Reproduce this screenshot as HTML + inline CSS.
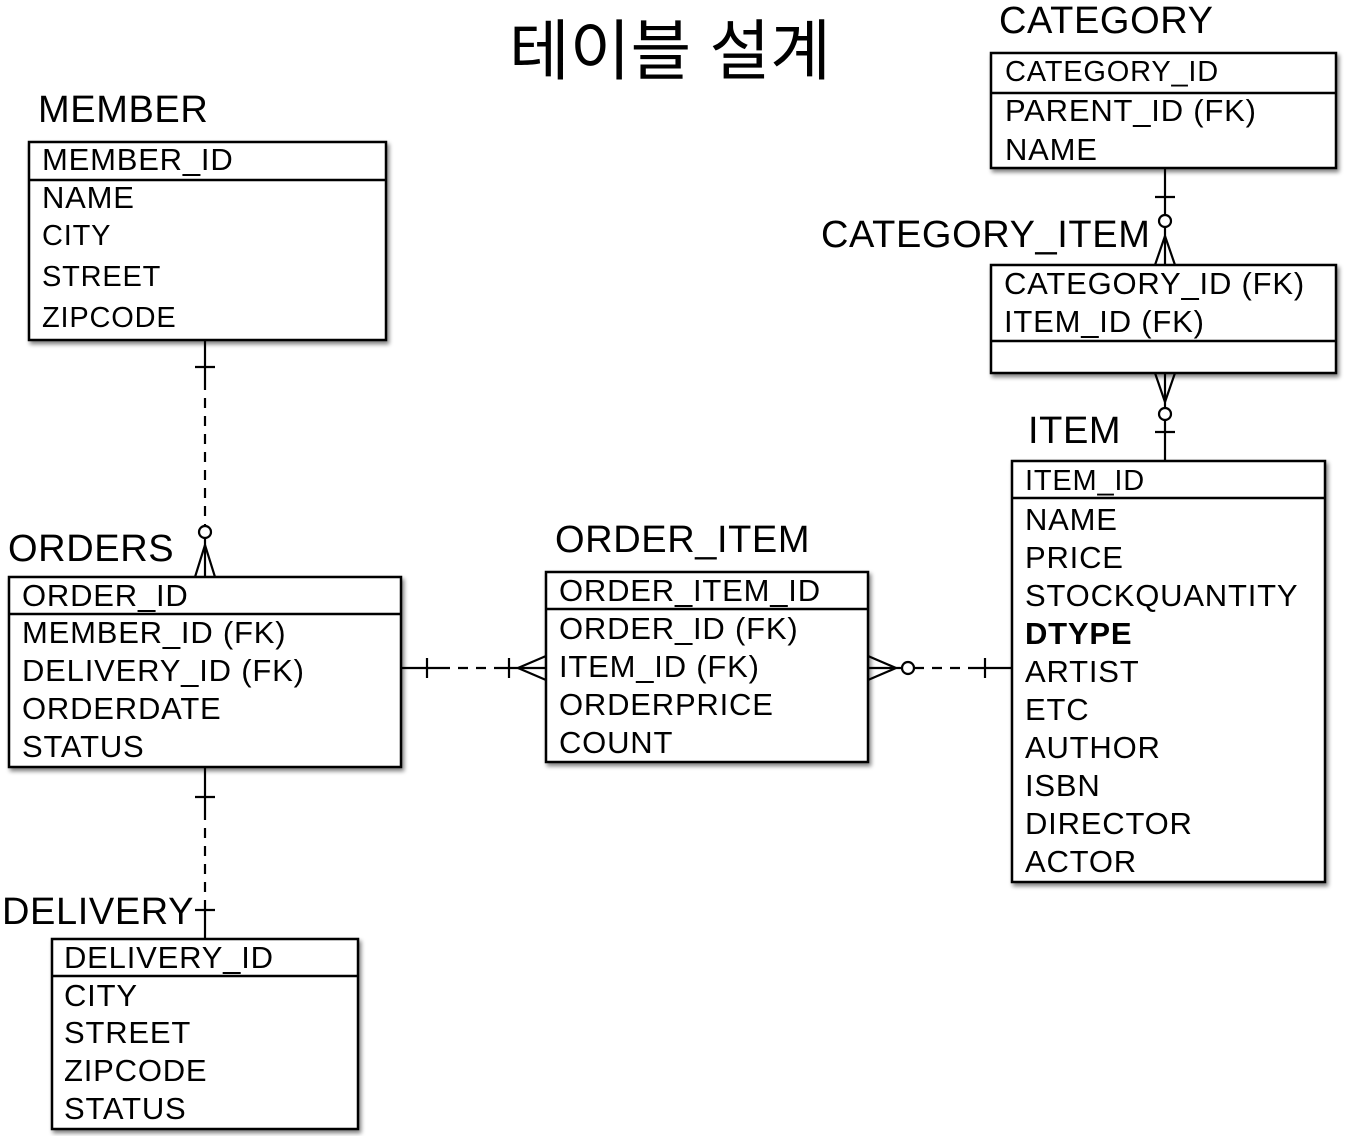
<!DOCTYPE html>
<html><head><meta charset="utf-8"><style>
html,body{margin:0;padding:0;background:#fff;}
svg{display:block;}
text{font-family:"Liberation Sans","Noto Sans CJK KR",sans-serif;fill:#000;}
.r text{font-size:31px;letter-spacing:0.8px;}
.r text.t{font-size:29px;letter-spacing:0.8px;}
.l{font-size:38px;letter-spacing:0.6px;}
</style></head><body>
<svg width="1346" height="1136" viewBox="0 0 1346 1136" xmlns="http://www.w3.org/2000/svg">
<defs>
<filter id="sh" x="-5%" y="-5%" width="115%" height="115%">
<feGaussianBlur in="SourceAlpha" stdDeviation="2"/>
<feOffset dx="2" dy="3"/>
<feComponentTransfer><feFuncA type="linear" slope="0.5"/></feComponentTransfer>
<feMerge><feMergeNode/><feMergeNode in="SourceGraphic"/></feMerge>
</filter>
</defs>
<text x="670" y="74" font-size="66" text-anchor="middle">테이블 설계</text>

<g fill="#fff" stroke="#000" stroke-width="2.5" filter="url(#sh)">
<rect x="991" y="53" width="345" height="115"/>
<rect x="991" y="265" width="345" height="108"/>
<rect x="1012" y="461" width="313" height="421"/>
<rect x="29" y="142" width="357" height="198"/>
<rect x="9" y="577" width="392" height="190"/>
<rect x="546" y="572" width="322" height="190"/>
<rect x="52" y="939" width="306" height="190"/>
</g>
<g stroke="#000" stroke-width="2.5">
<line x1="991" y1="93" x2="1336" y2="93"/>
<line x1="991" y1="341" x2="1336" y2="341"/>
<line x1="1012" y1="498" x2="1325" y2="498"/>
<line x1="29" y1="180" x2="386" y2="180"/>
<line x1="9" y1="614" x2="401" y2="614"/>
<line x1="546" y1="609" x2="868" y2="609"/>
<line x1="52" y1="976" x2="358" y2="976"/>
</g>

<text class="l" x="999" y="33">CATEGORY</text>
<text class="l" x="38" y="122">MEMBER</text>
<text class="l" x="821" y="247">CATEGORY_ITEM</text>
<text class="l" x="1028" y="443">ITEM</text>
<text class="l" x="8" y="561">ORDERS</text>
<text class="l" x="555" y="552">ORDER_ITEM</text>
<text class="l" x="2" y="924">DELIVERY</text>

<g class="r">
<text class="t" x="1005" y="81">CATEGORY_ID</text>
<text x="1005" y="121">PARENT_ID (FK)</text>
<text x="1005" y="160">NAME</text>

<text x="1004" y="294">CATEGORY_ID (FK)</text>
<text x="1004" y="332">ITEM_ID (FK)</text>

<text class="t" x="1025" y="490">ITEM_ID</text>
<text x="1025" y="530">NAME</text>
<text x="1025" y="568">PRICE</text>
<text x="1025" y="606">STOCKQUANTITY</text>
<text x="1025" y="644" font-weight="bold">DTYPE</text>
<text x="1025" y="682">ARTIST</text>
<text x="1025" y="720">ETC</text>
<text x="1025" y="758">AUTHOR</text>
<text x="1025" y="796">ISBN</text>
<text x="1025" y="834">DIRECTOR</text>
<text x="1025" y="872">ACTOR</text>

<text x="42" y="170">MEMBER_ID</text>
<text x="42" y="208">NAME</text>
<text class="t" x="42" y="245">CITY</text>
<text class="t" x="42" y="286">STREET</text>
<text class="t" x="42" y="327">ZIPCODE</text>

<text x="22" y="606">ORDER_ID</text>
<text x="22" y="643">MEMBER_ID (FK)</text>
<text x="22" y="681">DELIVERY_ID (FK)</text>
<text x="22" y="719">ORDERDATE</text>
<text x="22" y="757">STATUS</text>

<text x="559" y="601">ORDER_ITEM_ID</text>
<text x="559" y="639">ORDER_ID (FK)</text>
<text x="559" y="677">ITEM_ID (FK)</text>
<text x="559" y="715">ORDERPRICE</text>
<text x="559" y="753">COUNT</text>

<text x="64" y="968">DELIVERY_ID</text>
<text x="64" y="1006">CITY</text>
<text x="64" y="1043">STREET</text>
<text x="64" y="1081">ZIPCODE</text>
<text x="64" y="1119">STATUS</text>
</g>

<g stroke="#000" stroke-width="2.2" fill="none">
<line x1="1165" y1="168" x2="1165" y2="215"/>
<line x1="1155" y1="197" x2="1175" y2="197"/>
<circle cx="1165" cy="221" r="6" fill="#fff"/>
<line x1="1165" y1="227" x2="1165" y2="265"/>
<line x1="1165" y1="236" x2="1155" y2="265"/>
<line x1="1165" y1="236" x2="1175" y2="265"/>
<line x1="1165" y1="373" x2="1165" y2="408"/>
<line x1="1155" y1="373" x2="1165" y2="402"/>
<line x1="1175" y1="373" x2="1165" y2="402"/>
<circle cx="1165" cy="414" r="6" fill="#fff"/>
<line x1="1165" y1="420" x2="1165" y2="461"/>
<line x1="1155" y1="432" x2="1175" y2="432"/>
<line x1="205" y1="340" x2="205" y2="380"/>
<line x1="195" y1="367" x2="215" y2="367"/>
<line x1="205" y1="380" x2="205" y2="526" stroke-dasharray="10,8"/>
<circle cx="205" cy="532" r="6" fill="#fff"/>
<line x1="205" y1="538" x2="205" y2="577"/>
<line x1="205" y1="545" x2="195" y2="577"/>
<line x1="205" y1="545" x2="215" y2="577"/>
<line x1="401" y1="668" x2="440" y2="668"/>
<line x1="427" y1="658" x2="427" y2="678"/>
<line x1="440" y1="668" x2="498" y2="668" stroke-dasharray="10,8"/>
<line x1="498" y1="668" x2="546" y2="668"/>
<line x1="509" y1="658" x2="509" y2="678"/>
<line x1="518" y1="668" x2="546" y2="656"/>
<line x1="518" y1="668" x2="546" y2="680"/>
<line x1="868" y1="668" x2="902" y2="668"/>
<line x1="868" y1="656" x2="896" y2="668"/>
<line x1="868" y1="680" x2="896" y2="668"/>
<circle cx="908" cy="668" r="6" fill="#fff"/>
<line x1="914" y1="668" x2="975" y2="668" stroke-dasharray="10,8"/>
<line x1="975" y1="668" x2="1012" y2="668"/>
<line x1="985" y1="658" x2="985" y2="678"/>
<line x1="205" y1="767" x2="205" y2="810"/>
<line x1="195" y1="797" x2="215" y2="797"/>
<line x1="205" y1="810" x2="205" y2="900" stroke-dasharray="10,8"/>
<line x1="205" y1="900" x2="205" y2="939"/>
<line x1="195" y1="910" x2="215" y2="910"/>
</g>
</svg>
</body></html>
